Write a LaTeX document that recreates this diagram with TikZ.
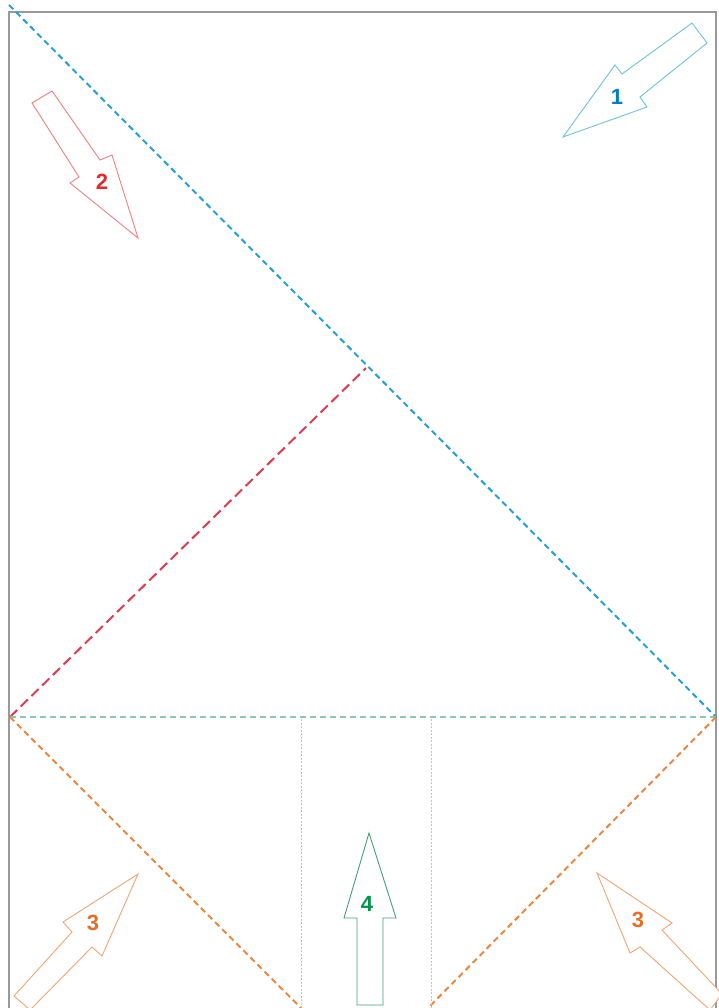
\documentclass[tikz,border=0pt]{standalone}
\usepackage{fontspec}
\setmainfont{Liberation Sans}
\usepackage{xcolor}

\definecolor{foldblue}{RGB}{40,160,210}
\definecolor{foldred}{RGB}{222,60,80}
\definecolor{foldgreen}{RGB}{140,200,175}
\definecolor{foldorange}{RGB}{235,135,65}
\definecolor{arrblue}{RGB}{110,195,220}
\definecolor{arrred}{RGB}{240,130,130}
\definecolor{arrorange}{RGB}{240,165,120}
\definecolor{arrgreen}{RGB}{70,160,120}
\definecolor{numblue}{RGB}{0,125,195}
\definecolor{numred}{RGB}{230,40,40}
\definecolor{numorange}{RGB}{230,110,40}
\definecolor{numgreen}{RGB}{0,150,75}

\tikzset{
  fold/.style={line width=2pt, dash pattern=on 6pt off 4pt},
  longfold/.style={line width=2pt, dash pattern=on 10pt off 5pt},
  thinfold/.style={line width=1pt, dash pattern=on 2pt off 1.5pt},
  blockarrow/.style={line width=0.9pt, line join=miter, fill=white},
  num/.style={font=\bfseries\fontsize{22}{22}\selectfont, inner sep=0pt}
}

\begin{document}
\begin{tikzpicture}[x=1pt, y=-1pt]
    \useasboundingbox (0,0) rectangle (718,1008);

    % Papel
    \draw[gray!80, line width=1.3pt] (9,1008) -- (9,12) -- (716,12) -- (716,1008);

    % Dobras
    \draw[fold, draw=foldblue] (9,5) -- (716,717);
    \draw[longfold, draw=foldred] (10,717) -- (366,368);
    \draw[fold, draw=foldgreen] (10,717) -- (716,717);
    \draw[fold, draw=foldorange] (10,717) -- (301,1008);
    \draw[fold, draw=foldorange] (716,717) -- (428,1008);
    \foreach \x in {301, 431}
        \draw[thinfold, draw=foldorange!60] (\x,719) -- (\x,1008);

    % Setas
    \draw[blockarrow, draw=arrblue] (563,137) -- (615,65) -- (622,74) -- (692,23)
        -- (707,43) -- (640,97) -- (647,107) -- cycle;
    \draw[blockarrow, draw=arrred] (138,238) -- (70,183) -- (79,177) -- (32,103)
        -- (52,91) -- (100,160) -- (112,155) -- cycle;
    \draw[blockarrow, draw=arrorange] (138,874) -- (102,956) -- (92,947) -- (30,1010)
        -- (14,996) -- (72,932) -- (63,922) -- cycle;
    \draw[blockarrow, draw=arrorange] (597,873) -- (672,923) -- (662,930) -- (722,994)
        -- (710,1010) -- (640,947) -- (630,953) -- cycle;
    \draw[blockarrow, draw=arrgreen] (369,833) -- (396,918) -- (383,918) -- (383,1005)
        -- (357,1005) -- (357,918) -- (344,918) -- cycle;

    % Numeros
    \node[num, text=numblue] (n1) at (617,97) {1};
    \node[num, text=numred] (n2) at (102,182) {2};
    \node[num, text=numorange] (n3a) at (93,923) {3};
    \node[num, text=numorange] (n3b) at (638,920) {3};
    \node[num, text=numgreen] (n4) at (367,904) {4};
\end{tikzpicture}
\end{document}
